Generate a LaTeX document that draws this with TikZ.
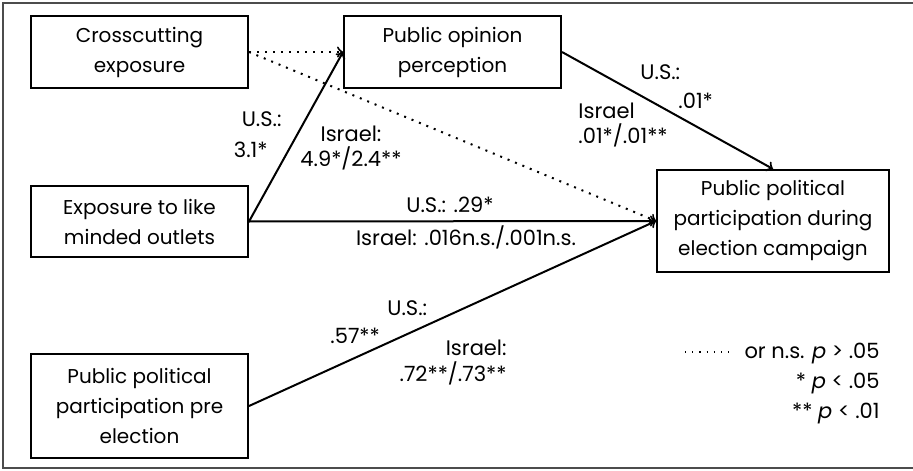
\documentclass[tikz,border=0pt]{standalone}
\usepackage{fontspec}
\setmainfont{Poppins}
\usetikzlibrary{positioning, arrows}

\begin{document}
\begin{tikzpicture}[
  x=0.5pt, y=-0.5pt,
  every node/.style={font=\fontsize{10.5}{13}\selectfont, inner sep=0pt},
  var/.style={draw, line width=1pt, align=center, minimum width=108.5pt,
    font=\fontsize{10}{15}\selectfont},
  eff/.style={->, >=to, line width=1pt},
  ns/.style={->, >=to, line width=1pt, dash pattern=on 1pt off 3pt},
  coef/.style={align=left}
]
  \useasboundingbox (0,0) rectangle (913,470);
  \draw[black!70, line width=0.6pt] (3,3) rectangle (920,468);

  % variables
  \node[var, minimum height=36pt] (cross) at (139.5,52) {Crosscutting\\exposure};
  \node[var, minimum height=36pt] (opinion) at (452.5,52) {Public opinion\\perception};
  \node[var, minimum height=35.5pt] (like) at (139.5,221.5) {Exposure to like\\minded outlets};
  \node[var, minimum height=52pt] (pre) at (139.5,406) {Public political\\participation pre\\election};
  \node[var, minimum height=51pt, minimum width=116pt] (during) at (773,221)
    {Public political\\participation during\\election campaign};

  % paths
  \draw[ns] (cross.east) -- (opinion.west);
  \draw[ns] (cross.east) -- (during.west);
  \draw[eff] (like.east) -- (opinion.west);
  \draw[eff] (like.east) -- (during.west);
  \draw[eff] (opinion.east) -- (during.north);
  \draw[eff] (pre.east) -- (during.west);

  % coefficients (base = last line)
  \node[anchor=base east] (usA) at (282,127) {U.S.:};
  \node[anchor=base east] (usAv) at (268,158) {3.1*};
  \node[anchor=base, align=center] (ilA) at (351,167) {Israel:\\4.9*/2.4**};
  \node[anchor=base] (usB) at (450,213) {U.S.: .29*};
  \node[anchor=base] (ilB) at (466,245) {Israel: .016n.s./.001n.s.};
  \node[anchor=base west] (usC) at (640,80) {U.S.:};
  \node[anchor=base west] (usCv) at (678,109) {.01*};
  \node[anchor=base west, coef] (ilC) at (578,144) {Israel\\.01*/.01**};
  \node[anchor=base west] (usD) at (387,315) {U.S.:};
  \node[anchor=base west] (usDv) at (330,343) {.57**};
  \node[anchor=base east, align=right] (ilD) at (507,381) {Israel:\\.72**/.73**};

  % legend
  \node[anchor=base east] (leg1) at (880,358) {or n.s. \textit{p} > .05};
  \node[anchor=base east] (leg2) at (880,388) {* \textit{p} < .05};
  \node[anchor=base east] (leg3) at (880,418) {** \textit{p} < .01};
  \coordinate (legA) at (685,352);
  \coordinate (legB) at (729,352);
  \draw[line width=0.6pt, dash pattern=on 0.6pt off 3pt] (legA) -- (legB);
\end{tikzpicture}
\end{document}
